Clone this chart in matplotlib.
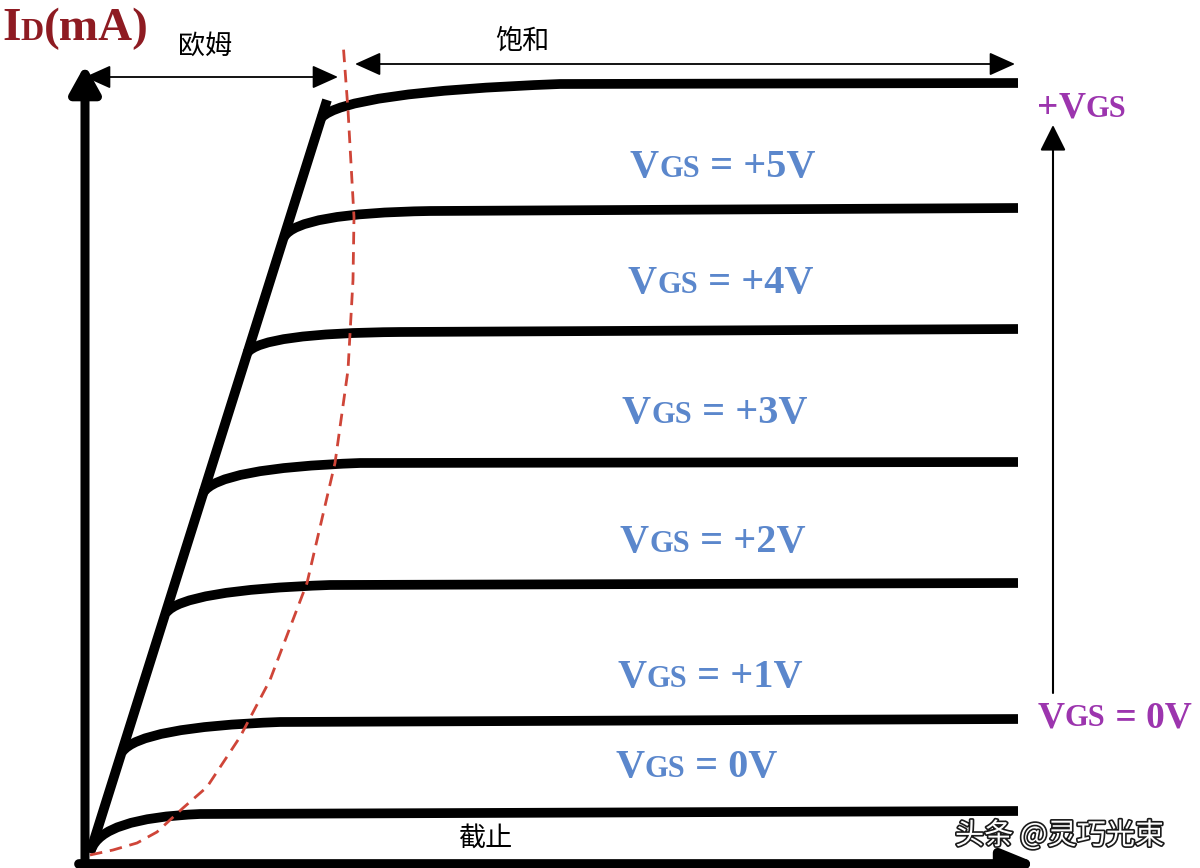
import matplotlib.pyplot as plt
from matplotlib.path import Path
from matplotlib.patches import PathPatch
import matplotlib.patheffects as pe

# output curves, one per gate voltage (x = V_DS, y = I_D, arbitrary units)
knee_x = [0.03, 0.34, 0.78, 1.15, 1.59, 1.96, 2.33]
knee_y = [0.08, 1.06, 2.45, 3.65, 5.05, 6.21, 7.40]
bend_x = [0.14, 0.52, 0.95, 1.30, 1.74, 2.10, 2.57]
bend_y = [0.40, 1.31, 2.68, 3.90, 5.25, 6.45, 7.66]
flat_x = [1.12, 1.92, 2.42, 2.72, 3.12, 3.42, 4.72]
flat_y = [0.44, 1.36, 2.73, 3.95, 5.26, 6.47, 7.74]
end_x = 9.30
sat_y = [0.47, 1.39, 2.75, 3.96, 5.29, 6.50, 7.75]

# ohmic (linear) region line
ohm_x = [0.02, 2.39]
ohm_y = [0.05, 7.58]

# pinch-off boundary, dashed red
edge_x = [0.02, 0.25, 0.49, 0.69, 0.95, 1.19, 1.52, 1.82, 2.19, 2.47, 2.60, 2.65, 2.66, 2.60, 2.55]
edge_y = [0.03, 0.08, 0.15, 0.26, 0.50, 0.71, 1.21, 1.78, 2.75, 3.95, 4.88, 5.78, 6.41, 7.48, 8.16]

# VGS labels between the curves
vgs_text = [" = 0V", " = +1V", " = +2V", " = +3V", " = +4V", " = +5V"]
label_x = [5.27, 5.29, 5.32, 5.34, 5.40, 5.42]
label_y = [0.81, 1.71, 3.06, 4.35, 5.65, 6.81]

BLUE = '#5B87CC'
PURPLE = '#9C35AE'
DARKRED = '#8E1B22'
RED = '#CF4538'
SERIF = 'Liberation Serif'
CJK = ['Noto Sans CJK SC', 'DejaVu Sans']

fig = plt.figure(figsize=(12, 8.68), dpi=100)
ax = fig.add_axes([0, 0, 1, 1])
ax.set_xlim(-0.88, 11.12)
ax.set_ylim(-0.10, 8.58)
ax.axis('off')


def rich(x, y, parts, color):
    # pieces of different size on a common baseline (V + small caps GS)
    s, size = parts[0]
    t = ax.text(x, y, s, fontsize=size, color=color, family=SERIF,
                weight='bold', ha='left', va='baseline')
    prev = size
    for s, size in parts[1:]:
        t = ax.annotate(s, xy=(1, 0), xycoords=t,
                        xytext=(0, 0.217 * (prev - size)), textcoords='offset points',
                        fontsize=size, color=color, family=SERIF, weight='bold',
                        ha='left', va='bottom')
        prev = size


def arrow(x0, y0, x1, y1, style, lw, ms):
    ax.annotate('', xy=(x1, y1), xytext=(x0, y0),
                arrowprops=dict(arrowstyle=style, lw=lw, color='black',
                                shrinkA=0, shrinkB=0, mutation_scale=ms))


# axes arrows
arrow(-0.03, -0.12, -0.03, 7.93, '-|>,head_length=0.9,head_width=0.5', 6.5, 18)
arrow(-0.09, -0.06, 9.50, -0.06, '-|>,head_length=1.1,head_width=0.45', 7, 18)

# ohmic line
ax.plot(ohm_x, ohm_y, color='black', lw=7, solid_capstyle='butt')

# saturation curves
for i in range(len(sat_y)):
    verts = [(knee_x[i], knee_y[i]), (bend_x[i], bend_y[i]),
             (flat_x[i], flat_y[i]), (end_x, sat_y[i])]
    codes = [Path.MOVETO, Path.CURVE3, Path.CURVE3, Path.LINETO]
    ax.add_patch(PathPatch(Path(verts, codes), fill=False, lw=7,
                           edgecolor='black', capstyle='butt', joinstyle='round'))

# pinch-off boundary
ax.plot(edge_x, edge_y, color=RED, lw=2.0, ls=(0, (4.5, 2.8)))

# region arrows
arrow(-0.03, 7.81, 2.50, 7.81, '<|-|>,head_length=1.0,head_width=0.45', 1.3, 16)
arrow(2.67, 7.94, 9.27, 7.94, '<|-|>,head_length=1.0,head_width=0.45', 1.3, 16)
arrow(9.65, 1.65, 9.65, 7.33, '-|>,head_length=1.0,head_width=0.5', 1.5, 16)

ax.text(1.17, 8.12, '欧姆', family=CJK, fontsize=19.5, ha='center', va='center')
ax.text(4.34, 8.17, '饱和', family=CJK, fontsize=19.5, ha='center', va='center')
ax.text(3.97, 0.20, '截止', family=CJK, fontsize=19.5, ha='center', va='center')

# labels
rich(-0.86, 8.18, [('I', 34), ('D', 23), ('(mA)', 34)], DARKRED)
for i in range(len(vgs_text)):
    rich(label_x[i], label_y[i], [('V', 29), ('GS', 22), (vgs_text[i], 29)], BLUE)
rich(9.49, 7.40, [('+', 27), ('V', 27), ('GS', 22)], PURPLE)
rich(9.50, 1.31, [('V', 27), ('GS', 22), (' = 0V', 27)], PURPLE)

# watermark
ax.text(8.67, 0.22, '头条 @灵巧光束', family=CJK, fontsize=21, color='white',
        ha='left', va='center',
        path_effects=[pe.withStroke(linewidth=2.4, foreground='#1a1a1a')])

fig.savefig('out.png', dpi=100, facecolor='white')
